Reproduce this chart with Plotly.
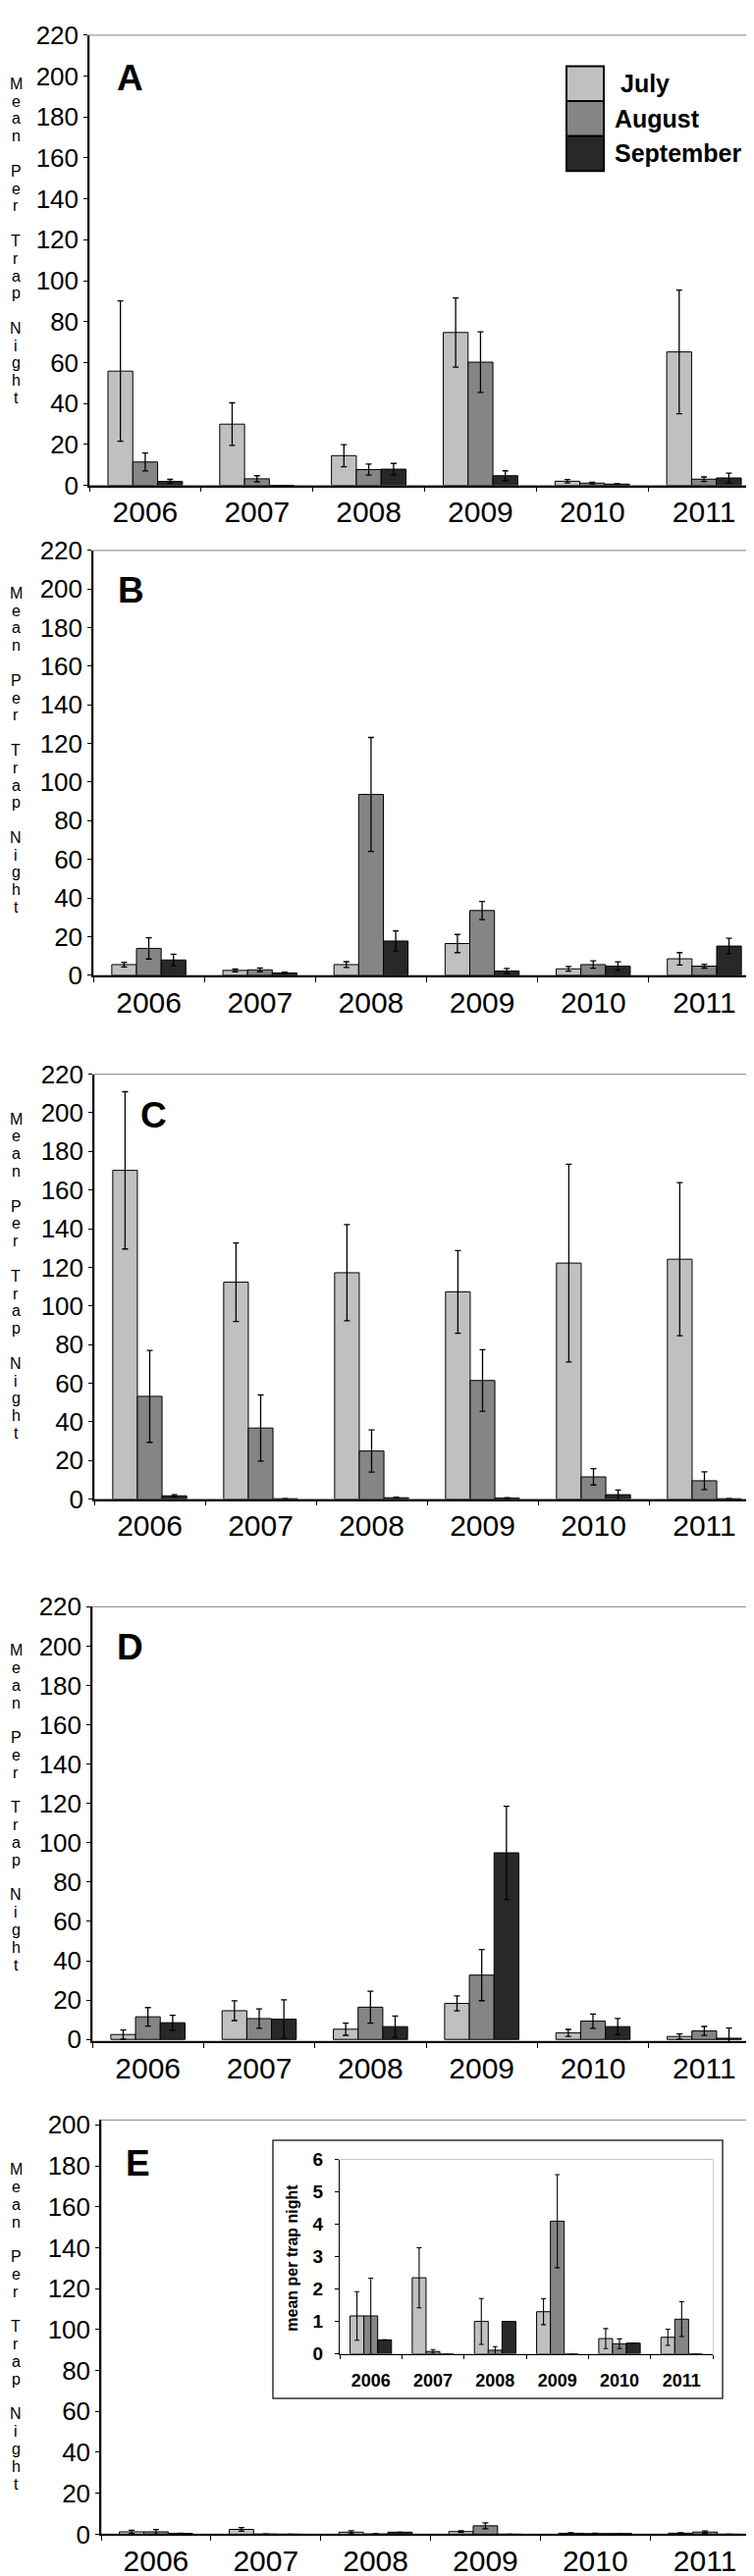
import plotly.graph_objects as go

W, H = 768, 2625

years = ["2006", "2007", "2008", "2009", "2010", "2011"]
months = ["July", "August", "September"]
colors = ["#c0c0c0", "#858585", "#282828"]

# Panel A
a_jul = [55.8, 29.9, 14.5, 74.7, 2.0, 65.2]
a_aug = [11.4, 3.2, 7.7, 60.2, 1.1, 3.0]
a_sep = [1.9, 0.0, 7.9, 4.7, 0.6, 3.6]
a_jul_err = [34.3, 10.4, 5.4, 16.9, 0.8, 30.2]
a_aug_err = [4.4, 1.5, 2.7, 14.8, 0.4, 1.1]
a_sep_err = [1.0, 0.0, 2.8, 2.4, 0.2, 2.4]

# Panel B
b_jul = [5.5, 2.5, 5.5, 16.4, 3.3, 8.5]
b_aug = [13.9, 2.8, 93.6, 33.5, 5.5, 4.7]
b_sep = [7.9, 1.2, 17.7, 2.2, 4.7, 15.1]
b_jul_err = [1.2, 0.7, 1.5, 4.7, 1.2, 3.2]
b_aug_err = [5.5, 1.0, 29.5, 4.7, 1.9, 1.0]
b_sep_err = [3.0, 0.4, 5.2, 1.3, 2.2, 4.0]

# Panel C
c_jul = [170.2, 112.3, 117.2, 107.3, 122.2, 124.2]
c_aug = [53.2, 36.8, 24.9, 61.4, 11.5, 9.5]
c_sep = [1.7, 0.2, 0.7, 0.5, 2.3, 0.2]
c_jul_err = [40.7, 20.3, 24.9, 21.4, 51.2, 39.6]
c_aug_err = [23.8, 17.1, 10.9, 15.9, 4.2, 4.6]
c_sep_err = [0.6, 0.0, 0.3, 0.2, 2.4, 0.0]

# Panel D
d_jul = [2.5, 14.6, 5.2, 18.3, 3.3, 1.5]
d_aug = [11.5, 10.6, 16.4, 32.7, 9.3, 4.3]
d_sep = [8.5, 10.3, 6.5, 94.9, 6.5, 0.6]
d_jul_err = [2.3, 5.0, 3.1, 3.8, 1.8, 1.3]
d_aug_err = [4.7, 4.9, 8.1, 13.0, 3.6, 2.3]
d_sep_err = [3.8, 9.8, 5.4, 23.7, 4.1, 5.2]

# Panel E (same data shown in the inset)
e_jul = [1.17, 2.35, 1.0, 1.3, 0.47, 0.51]
e_aug = [1.17, 0.07, 0.11, 4.1, 0.31, 1.07]
e_sep = [0.43, 0.0, 1.0, 0.0, 0.33, 0.0]
e_jul_err = [0.75, 0.93, 0.71, 0.4, 0.31, 0.25]
e_aug_err = [1.17, 0.06, 0.11, 1.44, 0.15, 0.54]
e_sep_err = [0.0, 0.0, 0.0, 0.0, 0.0, 0.0]

y_ticks_main = [0, 20, 40, 60, 80, 100, 120, 140, 160, 180, 200, 220]
y_ticks_e = [0, 20, 40, 60, 80, 100, 120, 140, 160, 180, 200]
y_ticks_inset = [0, 1, 2, 3, 4, 5, 6]
panel_letters = ["A", "B", "C", "D", "E"]
ytitle = "Mean Per Trap Night"
inset_title = "mean per trap night"


def px(x):
    return x / W


def py(y):
    return 1 - y / H


FONT = "Liberation Sans, Arial, Helvetica, sans-serif"

panels = [
    dict(l=83, r=766, t=13, b=477, yr=[0, 220], tv=y_ticks_main,
         data=[(a_jul, a_jul_err), (a_aug, a_aug_err), (a_sep, a_sep_err)],
         let=(124, 57), ts=63),
    dict(l=87, r=766, t=544, b=982, yr=[0, 220], tv=y_ticks_main,
         data=[(b_jul, b_jul_err), (b_aug, b_aug_err), (b_sep, b_sep_err)],
         let=(125, 585), ts=588),
    dict(l=88, r=766, t=1084, b=1522, yr=[0, 220], tv=y_ticks_main,
         data=[(c_jul, c_jul_err), (c_aug, c_aug_err), (c_sep, c_sep_err)],
         let=(148, 1126), ts=1130),
    dict(l=86, r=766, t=1633, b=2081, yr=[-1, 220], tv=y_ticks_main,
         data=[(d_jul, d_jul_err), (d_aug, d_aug_err), (d_sep, d_sep_err)],
         let=(124, 1675), ts=1678),
    dict(l=95, r=766, t=2162, b=2589, yr=[0, 202.4], tv=y_ticks_e,
         data=[(e_jul, e_jul_err), (e_aug, e_aug_err), (e_sep, e_sep_err)],
         let=(132, 2207), ts=2213),
]

fig = go.Figure()
layout = dict(
    width=W, height=H, margin=dict(l=0, r=0, t=0, b=0),
    paper_bgcolor="white", plot_bgcolor="white",
    barmode="group", bargap=1 / 3, bargroupgap=0,
    showlegend=False, font=dict(family=FONT, color="black"),
)
shapes = []
annotations = []

for i, p in enumerate(panels):
    n = i + 1
    xa = "x" if n == 1 else f"x{n}"
    ya = "y" if n == 1 else f"y{n}"
    for m, (vals, errs) in enumerate(p["data"]):
        fig.add_trace(go.Bar(
            x=years, y=vals, name=months[m], xaxis=xa, yaxis=ya,
            marker=dict(color=colors[m], line=dict(color="black", width=1)),
            error_y=dict(type="data", array=errs, visible=True,
                         color="black", thickness=1.3, width=3),
        ))
    layout["xaxis" if n == 1 else f"xaxis{n}"] = dict(
        domain=[px(p["l"]), px(p["r"])], anchor=ya, type="category",
        range=[-0.5, 5.5], showline=True, linecolor="black", linewidth=1.5,
        ticks="outside", ticklen=5, tickcolor="black", tickwidth=1,
        tickson="boundaries", showgrid=False,
        tickfont=dict(size=30, family=FONT), fixedrange=True,
    )
    layout["yaxis" if n == 1 else f"yaxis{n}"] = dict(
        domain=[py(p["b"]), py(p["t"])], anchor=xa, range=p["yr"],
        tickvals=p["tv"], showline=True, linecolor="black", linewidth=1.5,
        ticks="outside", ticklen=4, tickcolor="black", showgrid=False,
        zeroline=False, tickfont=dict(size=26, family=FONT), fixedrange=True,
    )
    shapes.append(dict(type="rect", xref=f"{xa} domain", yref=f"{ya} domain",
                       x0=0, x1=1, y0=0, y1=1, layer="below",
                       line=dict(color="#9a9a9a", width=1.2)))
    lx, ly = p["let"]
    annotations.append(dict(text=f"<b>{panel_letters[i]}</b>", x=px(lx), y=py(ly),
                            xref="paper", yref="paper", showarrow=False,
                            xanchor="center", yanchor="middle",
                            font=dict(size=37, family=FONT)))
    # vertical stacked y title, one letter per line
    row = 0
    for ch in ytitle:
        if ch != " ":
            annotations.append(dict(text=ch, x=px(8), y=py(p["ts"] + row * 18),
                                    xref="paper", yref="paper", showarrow=False,
                                    xanchor="center", yanchor="middle",
                                    font=dict(size=16, family=FONT)))
        row += 1

# Inset in panel E
il, ir, it, ib = 338, 718, 2203, 2403
for m, (vals, errs) in enumerate(panels[4]["data"]):
    fig.add_trace(go.Bar(
        x=years, y=vals, name=months[m], xaxis="x6", yaxis="y6",
        marker=dict(color=colors[m], line=dict(color="black", width=1)),
        error_y=dict(type="data", array=errs, visible=True,
                     color="black", thickness=1.1, width=2.5),
    ))
layout["xaxis6"] = dict(
    domain=[px(il), px(ir)], anchor="y6", type="category", range=[-0.5, 5.5],
    showline=True, linecolor="black", linewidth=1.2, ticks="outside", ticklen=4,
    tickcolor="black", tickson="boundaries", showgrid=False,
    tickfont=dict(size=18, family=FONT, weight="bold"), ticklabelstandoff=11,
    fixedrange=True,
)
layout["yaxis6"] = dict(
    domain=[py(ib), py(it)], anchor="x6", range=[0, 6], tickvals=y_ticks_inset,
    showline=True, linecolor="black", linewidth=1.2, ticks="outside", ticklen=4,
    tickcolor="black", showgrid=False, zeroline=False,
    tickfont=dict(size=19, family=FONT, weight="bold"), ticklabelstandoff=8,
    fixedrange=True,
)
shapes.append(dict(type="rect", xref="x6 domain", yref="y6 domain",
                   x0=0, x1=1, y0=0, y1=1, layer="below",
                   line=dict(color="#9a9a9a", width=1)))
shapes.append(dict(type="rect", xref="paper", yref="paper",
                   x0=px(270), x1=px(728), y0=py(2449), y1=py(2183),
                   layer="below", line=dict(color="#333333", width=1.5)))
annotations.append(dict(text=f"<b>{inset_title}</b>", x=px(290), y=py(2304),
                        xref="paper", yref="paper", showarrow=False, textangle=-90,
                        xanchor="center", yanchor="middle",
                        font=dict(size=16, family=FONT)))

# Legend in panel A
sw_l, sw_r = 569, 607
sw_top = 45
sw_h = 36
for m in range(3):
    y0 = sw_top + m * sw_h
    shapes.append(dict(type="rect", xref="paper", yref="paper",
                       x0=px(sw_l), x1=px(sw_r), y0=py(y0 + sw_h), y1=py(y0),
                       fillcolor=colors[m], line=dict(color="black", width=2)))
    annotations.append(dict(text=f"<b>{months[m]}</b>", x=px(616 + (6 if m == 0 else 0)),
                            y=py(y0 + sw_h / 2), xref="paper", yref="paper",
                            showarrow=False, xanchor="left", yanchor="middle",
                            font=dict(size=25, family=FONT)))

layout["shapes"] = shapes
layout["annotations"] = annotations
fig.update_layout(**layout)
fig.write_html("out.html")
